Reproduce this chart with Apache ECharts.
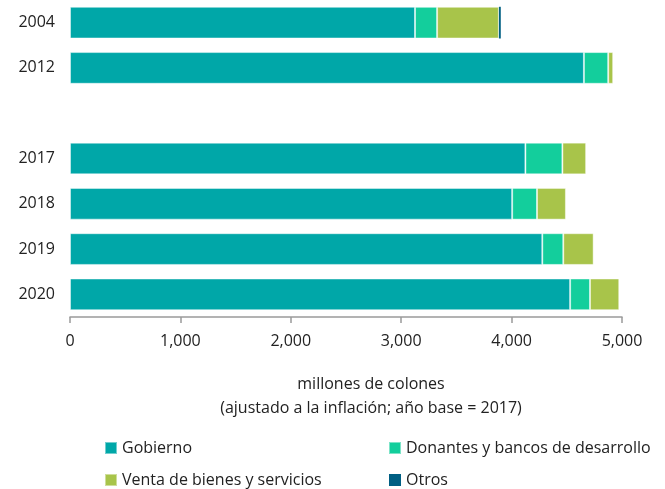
<!DOCTYPE html>
<html>
<head>
<meta charset="utf-8">
<script src="https://cdn.jsdelivr.net/npm/echarts@6/dist/echarts.min.js"></script>
<style>html,body{margin:0;padding:0;background:#fff}#c{width:665px;height:489px}</style>
</head>
<body>
<div id="c"></div>
<script>
const categories = ['2004', '2012', '', '2017', '2018', '2019', '2020'];
const gobierno = [3125, 4655, null, 4125, 4005, 4278, 4530];
const donantes = [200, 220, null, 335, 225, 190, 180];
const venta = [560, 45, null, 215, 262, 275, 265];
const otros = [17, 0, null, 0, 0, 0, 0];
const seriesNames = ['Gobierno', 'Donantes y bancos de desarrollo', 'Venta de bienes y servicios', 'Otros'];
const colors = ['#00A7A8', '#13CE9C', '#A8C44A', '#005F83'];
const xTicks = { min: 0, max: 5000, interval: 1000 };

const FONT = '"Open Sans", "Noto Sans", sans-serif';
const chart = echarts.init(document.getElementById('c'), null, { renderer: 'canvas' });
const dataSets = [gobierno, donantes, venta, otros];
const legendText = { fontFamily: FONT, fontSize: 16, color: '#222', lineHeight: 20 };
chart.setOption({
  animation: false,
  color: colors,
  textStyle: { fontFamily: FONT },
  grid: { left: 70, right: 43, top: 0, height: 317, containLabel: false },
  title: {
    text: 'millones de colones\n(ajustado a la inflación; año base = 2017)',
    left: 366, top: 367, textAlign: 'center',
    textStyle: { fontFamily: FONT, fontSize: 16, fontWeight: 'normal', color: '#222', lineHeight: 24 }
  },
  legend: [
    {
      data: [seriesNames[0], seriesNames[2]],
      orient: 'vertical', left: 99, top: 433, height: 70, itemWidth: 12, itemHeight: 12, itemGap: 12,
      icon: 'rect', textStyle: legendText
    },
    {
      data: [seriesNames[1], seriesNames[3]],
      orient: 'vertical', left: 383, top: 433, height: 70, itemWidth: 12, itemHeight: 12, itemGap: 12,
      icon: 'rect', textStyle: legendText
    }
  ],
  xAxis: {
    type: 'value', min: xTicks.min, max: xTicks.max, interval: xTicks.interval,
    axisLine: { show: true, lineStyle: { color: '#9a9a9a', width: 1.5 } },
    axisTick: { show: true, length: 6, lineStyle: { color: '#9a9a9a', width: 1.5 } },
    splitLine: { show: false },
    axisLabel: { fontFamily: FONT, fontSize: 16, color: '#222', margin: 16,
      formatter: v => v.toLocaleString('en-US') }
  },
  yAxis: {
    type: 'category', data: categories, inverse: true,
    axisLine: { show: false }, axisTick: { show: false },
    axisLabel: { fontFamily: FONT, fontSize: 16, color: '#222', margin: 15 }
  },
  series: seriesNames.map((n, i) => ({
    name: n, type: 'bar', stack: 'total', barCategoryGap: '30%',
    itemStyle: { color: colors[i], borderColor: i === 3 ? colors[i] : 'rgba(255,255,255,0.45)', borderWidth: i === 3 ? 0 : 1 },
    data: dataSets[i]
  }))
});
</script>
</body>
</html>
